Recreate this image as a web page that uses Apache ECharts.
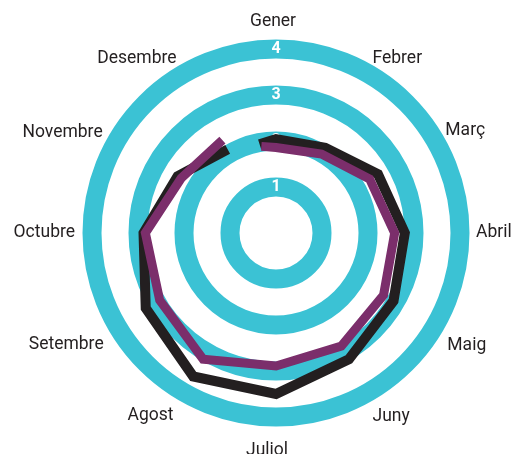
<!DOCTYPE html>
<html>
<head>
<meta charset="utf-8">
<script src="https://cdn.jsdelivr.net/npm/echarts@6/dist/echarts.min.js"></script>
<style>
html,body{margin:0;padding:0;background:#fff;}
#chart{width:512px;height:454px;}
</style>
</head>
<body>
<div id="chart"></div>
<script>
// Categories (angle axis)
const months = ['Gener','Febrer','Març','Abril','Maig','Juny','Juliol','Agost','Setembre','Octubre','Novembre','Desembre'];
// Radius axis tick labels
const radiusTicks = ['', '1', '2', '3', '4'];
// Series values (one per month, Gener..Desembre)
const blackValues  = [2.04, 2.14, 2.56, 2.80, 2.95, 3.17, 3.50, 3.60, 3.27, 2.88, 2.47, 2.10];
const purpleValues = [1.86, 1.98, 2.35, 2.58, 2.70, 2.84, 2.89, 3.17, 2.92, 2.84, 2.38, 2.33];
// Where each line begins (angle in month units, value)
const blackStart  = [11.65, 1.96];
const purpleStart = [11.68, 1.91];

function buildData(start, values) {
  const d = [[start[1], start[0]]];
  values.forEach((v, i) => d.push([v, i]));
  return d;
}

// Label styling: small per-label nudges (dx, dy in px) to follow the hand-placed labels
const labelNudge = [[-3,-3],[-3,7],[-3,6],[1,0],[-1,4],[-3,2],[-9,10],[-3,1],[0,3],[-2,0],[-1,11],[0,7]];
const baseLH = 18;
const rich = {};
months.forEach((m, i) => {
  const dx = labelNudge[i][0], dy = labelNudge[i][1];
  const hAlign = (i === 0 || i === 6) ? 'center' : (i < 6 ? 'left' : 'right');
  const vAlign = (i === 3 || i === 9) ? 'middle' : ((i <= 2 || i >= 10) ? 'bottom' : 'top');
  let lh = baseLH;
  if (vAlign === 'bottom') lh = Math.max(2, baseLH - 2 * dy);
  if (vAlign === 'top') lh = baseLH + 2 * dy;
  let pad = [0, 0, 0, 0];
  if (hAlign === 'left') pad = [0, 0, 0, dx];
  if (hAlign === 'right') pad = [0, -dx, 0, 0];
  if (hAlign === 'center') pad = [0, -dx, 0, dx];
  rich['m' + i] = {
    color: '#231f20', fontSize: 17.5, fontFamily: 'Roboto', fontWeight: 400,
    lineHeight: lh, padding: pad
  };
});

const chart = echarts.init(document.getElementById('chart'), null, {renderer: 'canvas'});
chart.setOption({
  animation: false,
  polar: { center: [276, 233], radius: 184 },
  angleAxis: {
    type: 'value', min: 0, max: 12, interval: 1,
    startAngle: 90, clockwise: true,
    axisLine: { show: false }, axisTick: { show: false },
    splitLine: { show: false }, splitArea: { show: false },
    axisLabel: {
      margin: 15,
      formatter: v => months[v] ? '{m' + v + '|' + months[v] + '}' : '',
      color: '#231f20', fontSize: 17.5, fontFamily: 'Roboto', fontWeight: 400,
      rich: rich
    }
  },
  radiusAxis: {
    type: 'value', min: 0, max: 4, interval: 1,
    axisLine: { show: false }, axisTick: { show: false },
    splitLine: { show: true, lineStyle: { color: '#3bc2d4', width: 19 } },
    axisLabel: {
      show: true, margin: 0, align: 'center', verticalAlign: 'middle',
      color: '#ffffff', fontSize: 16, fontWeight: 'bold', fontFamily: 'Roboto',
      formatter: v => radiusTicks[v] || ''
    }
  },
  series: [
    {
      type: 'line', coordinateSystem: 'polar', name: 'black',
      data: buildData(blackStart, blackValues),
      symbol: 'none', showSymbol: false, clip: false, silent: true,
      lineStyle: { color: '#231f20', width: 10, cap: 'butt', join: 'miter' }
    },
    {
      type: 'line', coordinateSystem: 'polar', name: 'purple',
      data: buildData(purpleStart, purpleValues),
      symbol: 'none', showSymbol: false, clip: false, silent: true,
      lineStyle: { color: '#7b2e6b', width: 9, cap: 'butt', join: 'miter' }
    }
  ]
});
</script>
</body>
</html>
